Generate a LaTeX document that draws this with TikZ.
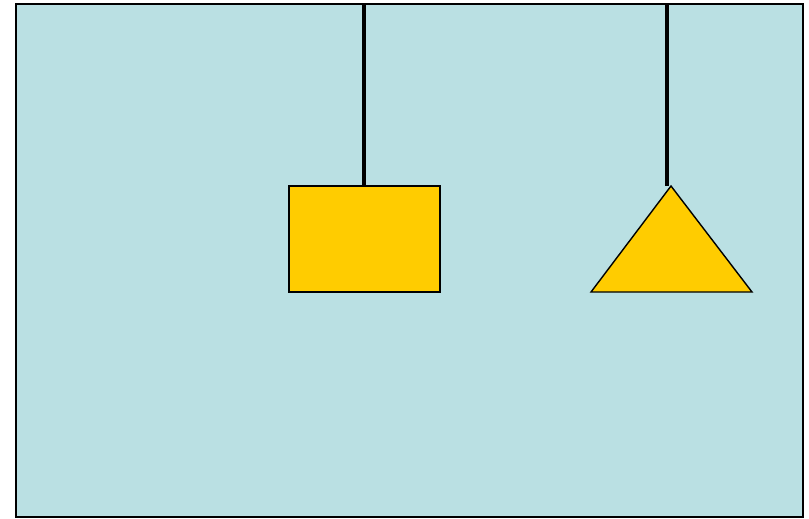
\documentclass[tikz,border=0pt]{standalone}
\definecolor{panel}{RGB}{186,224,227}
\definecolor{weight}{RGB}{255,204,0}
\begin{document}
\begin{tikzpicture}[x=0.03cm,y=-0.03cm]
  \useasboundingbox (0,0) rectangle (809,518);
  \draw[line width=1.6pt,fill=panel] (16,4) rectangle (803,517);
  % hanging weights
  \coordinate (hookA) at (364,4);
  \coordinate (boxtop) at (364,186);
  \coordinate (hookB) at (667,4);
  \coordinate (tritop) at (667,186);
  \draw[line width=1.2pt,fill=weight] (289,186) rectangle (440,292);
  \draw[line width=1.2pt,fill=weight] (671,186) -- (752,292) -- (591,292) -- cycle;
  \draw[line width=3pt] (hookA) -- (boxtop);
  \draw[line width=3pt] (hookB) -- (tritop);
\end{tikzpicture}
\end{document}
